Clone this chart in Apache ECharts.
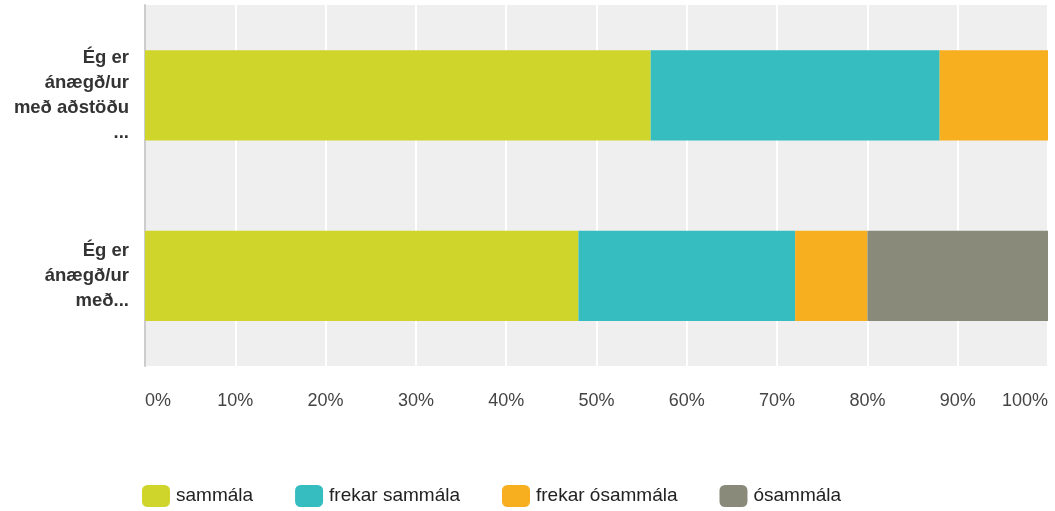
<!DOCTYPE html>
<html>
<head>
<meta charset="utf-8">
<script src="https://cdn.jsdelivr.net/npm/echarts@6/dist/echarts.min.js"></script>
<style>
html,body{margin:0;padding:0;background:#fff;}
#c{width:1055px;height:511px;}
</style>
</head>
<body>
<div id="c"></div>
<script>
const categories = ["Ég er\nánægð/ur\nmeð aðstöðu\n...", "Ég er\nánægð/ur\nmeð..."];
const seriesNames = ["sammála", "frekar sammála", "frekar ósammála", "ósammála"];
const sammala = [56, 48];
const frekarSammala = [32, 24];
const frekarOsammala = [12, 8];
const osammala = [0, 20];
const colors = ["#cfd52a", "#35bdbf", "#f7af1f", "#8a8a7a"];
const allValues = [sammala, frekarSammala, frekarOsammala, osammala];

const chart = echarts.init(document.getElementById('c'), null, {renderer: 'canvas'});
chart.setOption({
  animation: false,
  textStyle: {fontFamily: 'Liberation Sans, Arial, sans-serif'},
  grid: {left: 145, right: 7, top: 5, bottom: 145, show: true, backgroundColor: '#efefef', borderWidth: 0},
  legend: {
    left: 137, top: 480,
    itemWidth: 28, itemHeight: 22, itemGap: 42,
    icon: 'roundRect',
    textStyle: {fontSize: 19, color: '#222', padding: [0, 0, 0, 1]},
    data: seriesNames
  },
  xAxis: {
    type: 'value', min: 0, max: 100, interval: 10,
    axisLine: {show: false}, axisTick: {show: false},
    splitLine: {show: true, lineStyle: {color: '#ffffff', width: 2}},
    axisLabel: {formatter: '{value}%', fontSize: 18, color: '#444', margin: 26, alignMinLabel: 'left', alignMaxLabel: 'right'}
  },
  yAxis: {
    type: 'category', data: categories, inverse: true,
    axisLine: {show: true, lineStyle: {color: '#cccccc', width: 2}},
    axisTick: {show: false},
    axisLabel: {fontSize: 18.5, fontWeight: 'bold', color: '#333', lineHeight: 25, margin: 16, align: 'right'}
  },
  series: seriesNames.map((n, i) => ({
    name: n, type: 'bar', stack: 'total', barWidth: '50%',
    itemStyle: {color: colors[i]},
    data: allValues[i]
  }))
});
</script>
</body>
</html>
